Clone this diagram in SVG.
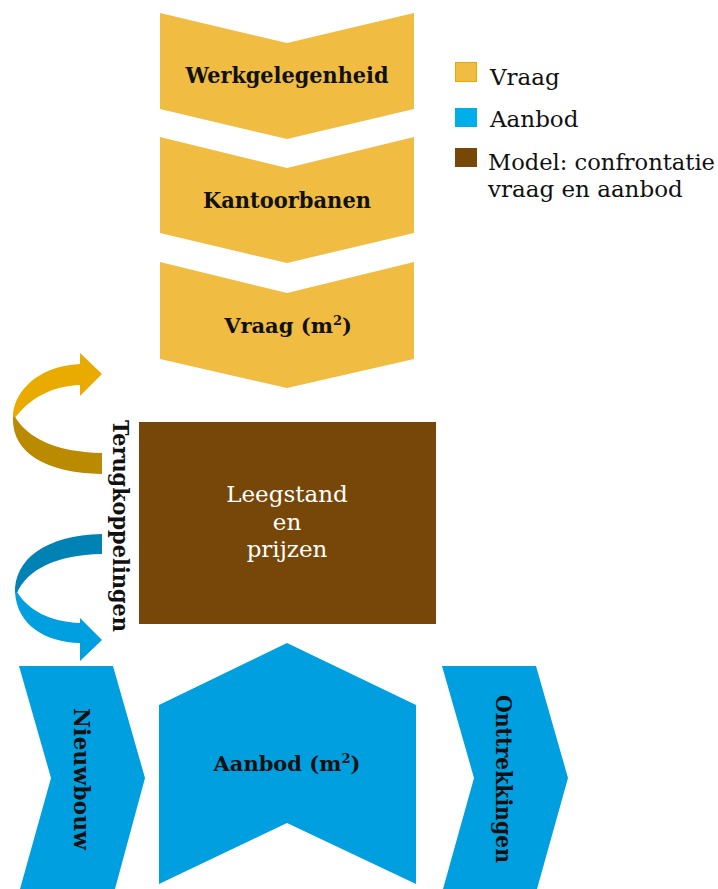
<svg xmlns="http://www.w3.org/2000/svg" width="718" height="889" viewBox="0 0 718 889">
<style>
.vraag{fill:#F0BC42}
.aanbod{fill:#009FE0}
.model{fill:#774709}
.t{font-family:"DejaVu Serif","Liberation Serif",serif;fill:#111}
.b{font-weight:bold;font-size:22px}
.m{font-weight:bold;font-size:21px}
.r{font-size:23px}
.w{fill:#fff;font-size:23px}
</style>
<rect width="718" height="889" fill="#fff"/>
<g id="werkgelegenheid">
<polygon class="vraag" points="160,13 287,43 414,13 414,109 287,139 160,109"/>
<text class="t b" x="287" y="83" text-anchor="middle" textLength="203" lengthAdjust="spacingAndGlyphs">Werkgelegenheid</text>
</g>
<g id="kantoorbanen">
<polygon class="vraag" points="160,137 287,168 414,137 414,233 287,263 160,233"/>
<text class="t b" x="287" y="208" text-anchor="middle" textLength="168" lengthAdjust="spacingAndGlyphs">Kantoorbanen</text>
</g>
<g id="vraag">
<polygon class="vraag" points="160,262 287,293 414,262 414,359 287,388 160,359"/>
<text class="t m" x="288" y="333" text-anchor="middle">Vraag (m<tspan font-size="13" dy="-8">2</tspan><tspan dy="8">)</tspan></text>
</g>
<g id="leegstand">
<rect class="model" x="139" y="422" width="297" height="202"/>
<text class="t w" x="287" text-anchor="middle"><tspan x="287" y="502">Leegstand</tspan><tspan x="287" y="530">en</tspan><tspan x="287" y="557">prijzen</tspan></text>
</g>
<g id="nieuwbouw">
<polygon class="aanbod" points="19,666 113,666 145,778 115,889 20,889 51,778"/>
<text class="t b" transform="translate(74,779) rotate(90)" x="0" y="0" text-anchor="middle" textLength="142" lengthAdjust="spacingAndGlyphs">Nieuwbouw</text>
</g>
<g id="aanbod">
<polygon class="aanbod" points="159,705 287,643 416,705 416,884 287,823 159,884"/>
<text class="t m" x="287" y="771" text-anchor="middle">Aanbod (m<tspan font-size="13" dy="-8">2</tspan><tspan dy="8">)</tspan></text>
</g>
<g id="onttrekkingen">
<polygon class="aanbod" points="442,666 536,666 568,778 537,889 443,889 474,778"/>
<text class="t b" transform="translate(496,779) rotate(90)" x="0" y="0" text-anchor="middle" textLength="168" lengthAdjust="spacingAndGlyphs">Onttrekkingen</text>
</g>
<g id="terugkoppelingen">
<text class="t b" transform="translate(113,526) rotate(90)" x="0" y="0" text-anchor="middle" textLength="212" lengthAdjust="spacingAndGlyphs">Terugkoppelingen</text>
</g>
<g id="connectors">
<path fill="#E9AB00" d="M80,364 L80,353 L102,374 L80,396 L80,385 C52,386 30,398 15,418 L13,418 C12,395 35,366 80,364 Z"/>
<path fill="#BA8A00" d="M13,417 L15,417 C28,438 55,452 102,453 L102,474 C45,473 13,452 13,420 Z"/>
<path fill="#0082B4" d="M102,534 L102,554 C55,555 27,570 17,593 L15,593 C14,560 45,535 102,534 Z"/>
<path fill="#009FE0" d="M15,592 L17,592 C28,610 50,622 80,623 L80,618 L102,640 L80,661 L80,643 C45,642 17,625 15,592 Z"/>
</g>
<g id="legend">
<rect x="455.5" y="62.5" width="21" height="19" fill="#F0BC42" stroke="#E9A800" stroke-width="1"/>
<text class="t r" x="490" y="85">Vraag</text>
<rect x="455" y="108" width="22" height="19" fill="#00AEEA"/>
<text class="t r" x="490" y="127">Aanbod</text>
<rect x="455" y="148" width="22" height="19" fill="#774709"/>
<text class="t r" x="488" y="170" textLength="227" lengthAdjust="spacingAndGlyphs">Model: confrontatie</text>
<text class="t r" x="488" y="197">vraag en aanbod</text>
</g>
</svg>
